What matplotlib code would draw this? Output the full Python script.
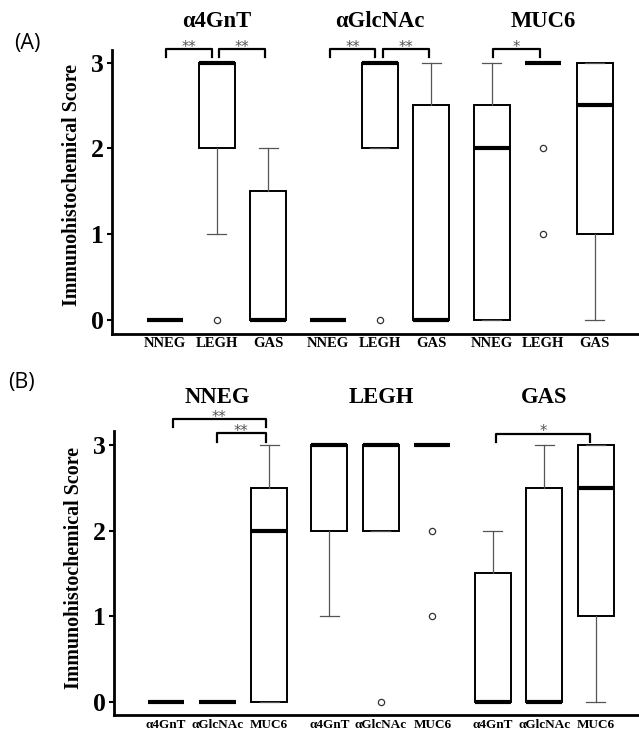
import matplotlib
matplotlib.use("Agg")
import matplotlib.pyplot as plt

plt.rcParams["font.family"] = "serif"
plt.rcParams["font.serif"] = ["Liberation Serif", "DejaVu Serif"]

markers = ["α4GnT", "αGlcNAc", "MUC6"]
groups = ["NNEG", "LEGH", "GAS"]
yticks = [0, 1, 2, 3]
positions = [1, 2, 3, 4.17, 5.17, 6.17, 7.34, 8.34, 9.34]

# panel A: grouped by antibody (NNEG, LEGH, GAS inside each)
A_whislo = [0, 1, 0, 0, 2, 0, 0, 3, 0]
A_q1 = [0, 2, 0, 0, 2, 0, 0, 3, 1]
A_med = [0, 3, 0, 0, 3, 0, 2, 3, 2.5]
A_q3 = [0, 3, 1.5, 0, 3, 2.5, 2.5, 3, 3]
A_whishi = [0, 3, 2, 0, 3, 3, 3, 3, 3]
A_fliers = [[], [0], [], [], [0], [], [], [2, 1], []]

# panel B: grouped by lesion (α4GnT, αGlcNAc, MUC6 inside each)
B_whislo = [0, 0, 0, 1, 2, 3, 0, 0, 0]
B_q1 = [0, 0, 0, 2, 2, 3, 0, 0, 1]
B_med = [0, 0, 2, 3, 3, 3, 0, 0, 2.5]
B_q3 = [0, 0, 2.5, 3, 3, 3, 1.5, 2.5, 3]
B_whishi = [0, 0, 3, 3, 3, 3, 2, 3, 3]
B_fliers = [[], [], [], [], [0], [2, 1], [], [], []]

# significance brackets: x0, x1, top, leg end, star centre, text
A_sig = [(1.02, 1.906, 3.157, 3.068, 3.224, "**"),
         (2.054, 2.95, 3.157, 3.068, 3.224, "**"),
         (4.203, 5.077, 3.157, 3.068, 3.224, "**"),
         (5.227, 6.12, 3.157, 3.068, 3.224, "**"),
         (7.37, 8.28, 3.157, 3.068, 3.224, "*")]
B_sig = [(1.13, 2.94, 3.304, 3.207, 3.362, "**"),
         (1.985, 2.94, 3.137, 3.039, 3.207, "**"),
         (7.40, 9.23, 3.125, 3.039, 3.207, "*")]


def box_stats(lo, q1, med, q3, hi, fl):
    return [dict(whislo=a, q1=b, med=c, q3=d, whishi=e, fliers=f)
            for a, b, c, d, e, f in zip(lo, q1, med, q3, hi, fl)]


def draw_panel(ax, stats, titles, ticklabels, title_y, sigs, xlim, ybot, spine_top,
               tick_fs, tick_pad):
    ax.bxp(stats, positions=positions, widths=0.7, patch_artist=True,
           showfliers=True, capwidths=0.37,
           boxprops=dict(facecolor="white", edgecolor="black", linewidth=1.4),
           medianprops=dict(color="black", linewidth=3.0, solid_capstyle="butt"),
           whiskerprops=dict(color="#555555", linewidth=0.9),
           capprops=dict(color="#555555", linewidth=0.9),
           flierprops=dict(marker="o", markersize=4.5, markerfacecolor="none",
                           markeredgecolor="#333333", markeredgewidth=0.9))
    ax.set_xlim(*xlim)
    ax.set_ylim(ybot, 3.6)
    for s in ["top", "right"]:
        ax.spines[s].set_visible(False)
    ax.spines["left"].set_linewidth(2)
    ax.spines["bottom"].set_linewidth(2)
    ax.spines["left"].set_bounds(ybot, spine_top)
    ax.set_yticks(yticks)
    ax.set_yticklabels([str(t) for t in yticks], fontsize=18.5, fontweight="bold")
    ax.set_xticks(positions)
    ax.set_xticklabels(ticklabels, fontsize=tick_fs, fontweight="bold")
    ax.tick_params(axis="x", length=0, pad=tick_pad)
    ax.tick_params(axis="y", length=3.5, width=1.5, pad=2)
    for k, t in enumerate(titles):
        ax.text(positions[3 * k + 1], title_y, t, ha="center", va="center",
                fontsize=16.3, fontweight="bold", clip_on=False)
    for x0, x1, top, leg, ys, lab in sigs:
        ax.plot([x0, x0, x1, x1], [leg, top, top, leg], color="black",
                linewidth=1.6, clip_on=False)
        ax.annotate(lab, xy=((x0 + x1) / 2, ys), xytext=(0, -6),
                    textcoords="offset points", ha="center", va="baseline",
                    fontsize=10.5, color="#555555", family="DejaVu Sans",
                    annotation_clip=False)


fig = plt.figure(figsize=(6.39, 7.35), dpi=100)
W, H = 639.0, 735.0

# panel A
axA = fig.add_axes([111.7 / W, 1 - 334 / H, 1 - 111.7 / W, (334 - 11) / H])
draw_panel(axA, box_stats(A_whislo, A_q1, A_med, A_q3, A_whishi, A_fliers),
           markers, groups * 3, 3.476, A_sig, (-0.035, 10.2), -0.163, 3.146, 10.5, 2.5)
fig.text(71.7 / W, 1 - 185 / H, "Immunohistochemical Score", rotation=90,
         ha="center", va="center", fontsize=14.4, fontweight="bold")
fig.text(14 / W, 1 - 43 / H, "(A)", fontsize=15.5, family="Open Sans",
         ha="left", va="center")

# panel B
axB = fig.add_axes([113.5 / W, 1 - 714.5 / H, 1 - 113.5 / W, (714.5 - 393.7) / H])
draw_panel(axB, box_stats(B_whislo, B_q1, B_med, B_q3, B_whishi, B_fliers),
           groups, markers * 3, 3.555, B_sig, (-0.019, 10.18), -0.15, 3.167, 9.5, 3)
fig.text(74 / W, 1 - 568 / H, "Immunohistochemical Score", rotation=90,
         ha="center", va="center", fontsize=14.4, fontweight="bold")
fig.text(8 / W, 1 - 383 / H, "(B)", fontsize=15.5, family="Open Sans",
         ha="left", va="center")

fig.savefig("out.png", dpi=100)
